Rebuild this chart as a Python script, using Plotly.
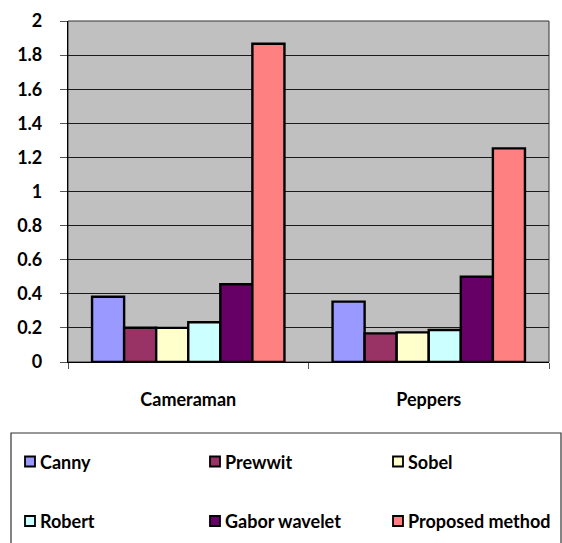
import plotly.graph_objects as go

# Edge-detection comparison data
categories = ["Cameraman", "Peppers"]
methods = ["Canny", "Prewwit", "Sobel", "Robert", "Gabor wavelet", "Proposed method"]
canny = [0.383, 0.354]
prewwit = [0.201, 0.168]
sobel = [0.200, 0.174]
robert = [0.233, 0.188]
gabor = [0.456, 0.500]
proposed = [1.867, 1.253]
y_ticks = [0, 0.2, 0.4, 0.6, 0.8, 1, 1.2, 1.4, 1.6, 1.8, 2]

series = [canny, prewwit, sobel, robert, gabor, proposed]
colors = ["#9999FF", "#993366", "#FFFFCC", "#CCFFFF", "#660066", "#FF8080"]

W, H = 562, 543
L, R, T, B = 68, 13, 21, 181
pw, ph = W - L - R, H - T - B
FONT = "Lato"
WEIGHT = "bold"


def px(x):
    return (x - L) / pw


def py(y):
    return (H - B - y) / ph


fig = go.Figure()
for name, vals, col in zip(methods, series, colors):
    fig.add_trace(go.Bar(
        x=categories, y=vals, name=name,
        marker=dict(color=col, line=dict(color="black", width=2.4)),
        showlegend=False,
    ))

# Legend drawn as a framed box with three columns and two rows
shapes = [dict(type="rect", xref="paper", yref="paper",
               x0=px(11), x1=px(561), y0=py(433), y1=py(550),
               line=dict(color="#333333", width=1.2), fillcolor="white", layer="below")]
annotations = []
col_x = [25, 210, 393]
row_y = [461.5, 521]
for i, (name, col) in enumerate(zip(methods, colors)):
    cx = col_x[i % 3]
    cy = row_y[i // 3]
    shapes.append(dict(type="rect", xref="paper", yref="paper",
                       x0=px(cx), x1=px(cx + 10), y0=py(cy - 5), y1=py(cy + 5),
                       line=dict(color="black", width=1.8), fillcolor=col))
    annotations.append(dict(xref="paper", yref="paper", x=px(cx + 13), y=py(cy),
                            text=name, showarrow=False,
                            xanchor="left", yanchor="middle",
                            font=dict(family=FONT, size=18, color="black", weight=WEIGHT)))

fig.update_layout(
    width=W, height=H,
    margin=dict(l=L, r=R, t=T, b=B, autoexpand=False),
    paper_bgcolor="white",
    plot_bgcolor="#C0C0C0",
    barmode="group",
    bargap=0.2,
    bargroupgap=0,
    showlegend=False,
    shapes=shapes,
    annotations=annotations,
    font=dict(family=FONT, color="black"),
)
fig.update_xaxes(
    automargin=False,
    showline=True, linecolor="black", linewidth=1.2, mirror=False,
    ticks="outside", ticklen=6, tickcolor="#555555", tickson="boundaries",
    tickfont=dict(family=FONT, size=18, color="black", weight=WEIGHT),
    ticklabelstandoff=21,
    showgrid=False,
)
fig.update_yaxes(
    automargin=False,
    range=[0, 2], tickvals=y_ticks,
    ticktext=[f"{t:g}" for t in y_ticks],
    showline=True, linecolor="black", linewidth=1.2,
    ticks="outside", ticklen=7, tickcolor="#555555",
    ticklabelstandoff=14,
    showgrid=True, gridcolor="#1a1a1a", gridwidth=1,
    tickfont=dict(family=FONT, size=18, color="black", weight=WEIGHT),
    zeroline=False,
)
# thin frame on the top and right of the plot area
fig.add_shape(type="rect", xref="paper", yref="paper", x0=0, x1=1, y0=0, y1=1,
              line=dict(color="#333333", width=1), layer="below")

fig.write_html("out.html")
